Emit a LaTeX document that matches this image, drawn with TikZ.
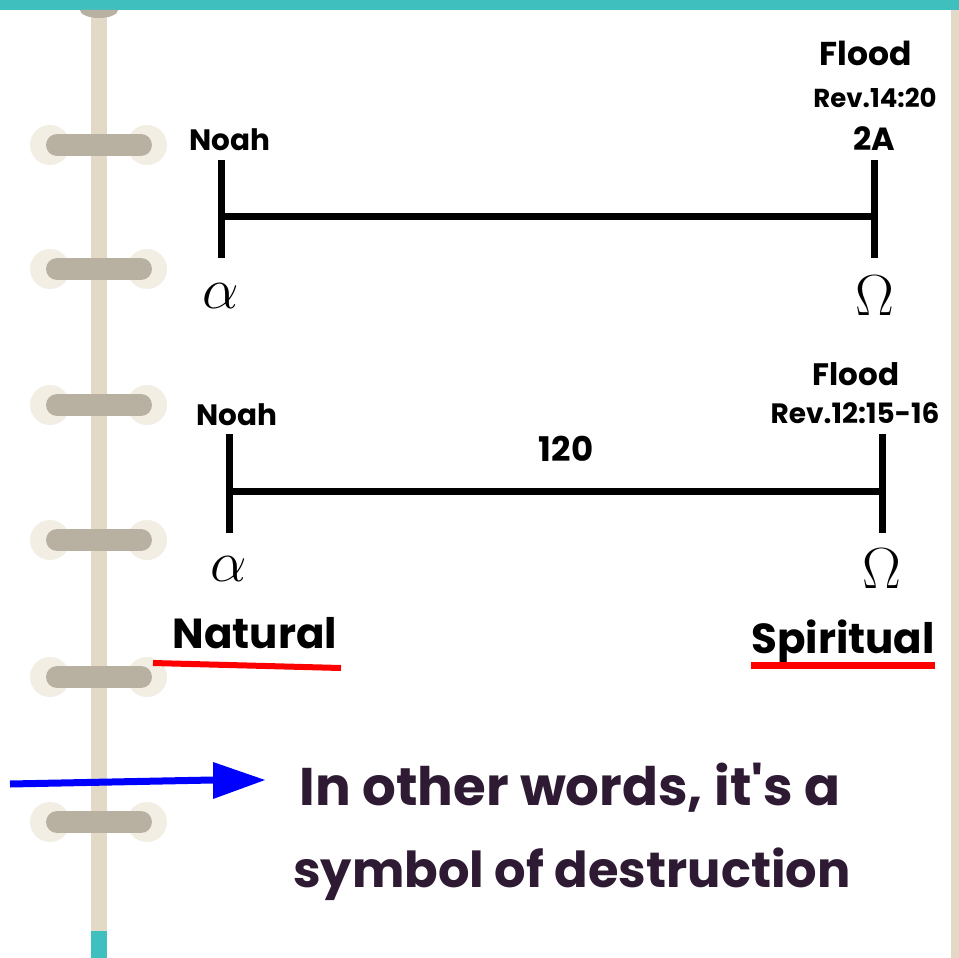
\RequirePackage{fix-cm}
\documentclass[tikz,border=0pt]{standalone}
\usepackage{fontspec}
\newfontfamily\pop{Poppins}
\begin{document}
\begin{tikzpicture}[x=1pt,y=-1pt,
  lbl/.style={font=\pop\bfseries\fontsize{29.5}{30}\selectfont, anchor=base, inner sep=0pt},
  greek/.style={font=\fontsize{58}{60}\selectfont, anchor=base, inner sep=0pt},
  big/.style={font=\pop\bfseries\fontsize{42}{44}\selectfont, anchor=base, inner sep=0pt},
  msg/.style={font=\pop\bfseries\fontsize{51}{52}\selectfont, anchor=base, inner sep=0pt, text=msgcol},
  tl/.style={line width=7pt},
  ringbar/.style={line width=22pt, line cap=round, draw=ringdark},
]
\definecolor{teal}{HTML}{40BFBF}
\definecolor{spine}{HTML}{E2D9C6}
\definecolor{ringlight}{HTML}{F2EEE3}
\definecolor{ringdark}{HTML}{B8B1A1}
\definecolor{msgcol}{HTML}{2E1A33}
\useasboundingbox (0,0) rectangle (959,958);
\fill[white] (0,0) rectangle (959,958);
% top bar
\fill[teal] (0,0) rectangle (959,10);
% right edge
\fill[spine] (951,10) rectangle (959,958);
% spine
\fill[spine] (91,10) rectangle (107,931);
\fill[teal] (91,931) rectangle (107,958);
\fill[ringdark] (80,10) arc[start angle=180,end angle=0,x radius=19,y radius=8] -- cycle;
\fill[ringdark] (91,10) rectangle (107,17);
% rings
\foreach \yy in {145,269,405,540,677,822}{
  \fill[ringlight] (50,\yy) circle[radius=20];
  \fill[ringlight] (147,\yy) circle[radius=20];
  \draw[ringbar] (57,\yy) -- (141,\yy);
}
% timeline 1
\coordinate (a1t) at (221,160); \coordinate (a1b) at (221,258);
\coordinate (o1t) at (874.5,160); \coordinate (o1b) at (874.5,258);
\coordinate (a1m) at (221,216); \coordinate (o1m) at (874.5,216);
\draw[tl] (a1t) -- (a1b);
\draw[tl] (o1t) -- (o1b);
\draw[tl] (a1m) -- (o1m);
\node[lbl] (noah1) at (230,150) {Noah};
\node[lbl, font=\pop\bfseries\fontsize{33}{34}\selectfont] (flood1) at (866,66) {Flood};
\node[lbl, font=\pop\bfseries\fontsize{26}{28}\selectfont] (rev1) at (875,107) {Rev.14:20};
\node[lbl, font=\pop\bfseries\fontsize{32}{34}\selectfont] (twoa) at (874,150) {2A};
\node[greek] (alpha1) at (221,308) {$\alpha$};
\node[greek] (omega1) at (875,315) {$\Omega$};
% timeline 2
\coordinate (a2t) at (229,434); \coordinate (a2b) at (229,533);
\coordinate (o2t) at (882,434); \coordinate (o2b) at (882,533);
\coordinate (a2m) at (229,491); \coordinate (o2m) at (882,491);
\draw[tl] (a2t) -- (a2b);
\draw[tl] (o2t) -- (o2b);
\draw[tl] (a2m) -- (o2m);
\node[lbl] (noah2) at (237,425) {Noah};
\node[lbl, font=\pop\bfseries\fontsize{34}{36}\selectfont] (n120) at (566,461) {120};
\node[lbl, font=\pop\bfseries\fontsize{31}{32}\selectfont] (flood2) at (856,385) {Flood};
\node[lbl, font=\pop\bfseries\fontsize{28}{30}\selectfont] (rev2) at (855,423) {Rev.12:15-16};
\node[greek] (alpha2) at (229,581) {$\alpha$};
\node[greek] (omega2) at (882,588) {$\Omega$};
% labels
\node[big] (natural) at (255,648) {Natural};
\node[big] (spiritual) at (843,653) {Spiritual};
\coordinate (nu1) at (153,663); \coordinate (nu2) at (341,668);
\draw[red, line width=6pt] (nu1) -- (nu2);
\coordinate (su1) at (751,665); \coordinate (su2) at (935,665);
\draw[red, line width=7pt] (su1) -- (su2);
% arrow
\coordinate (ar1) at (10,784); \coordinate (ar2) at (213,780); \coordinate (tip) at (265,780);
\draw[blue, line width=7pt] (ar1) -- (ar2);
\fill[blue] (213,762) -- (tip) -- (213,799) -- cycle;
% message
\node[msg, font=\pop\bfseries\fontsize{53}{54}\selectfont] (msg1) at (570,805) {In other words, it's a};
\node[msg, font=\pop\bfseries\fontsize{49.5}{50}\selectfont] (msg2) at (572,887) {symbol of destruction};
\end{tikzpicture}
\end{document}
